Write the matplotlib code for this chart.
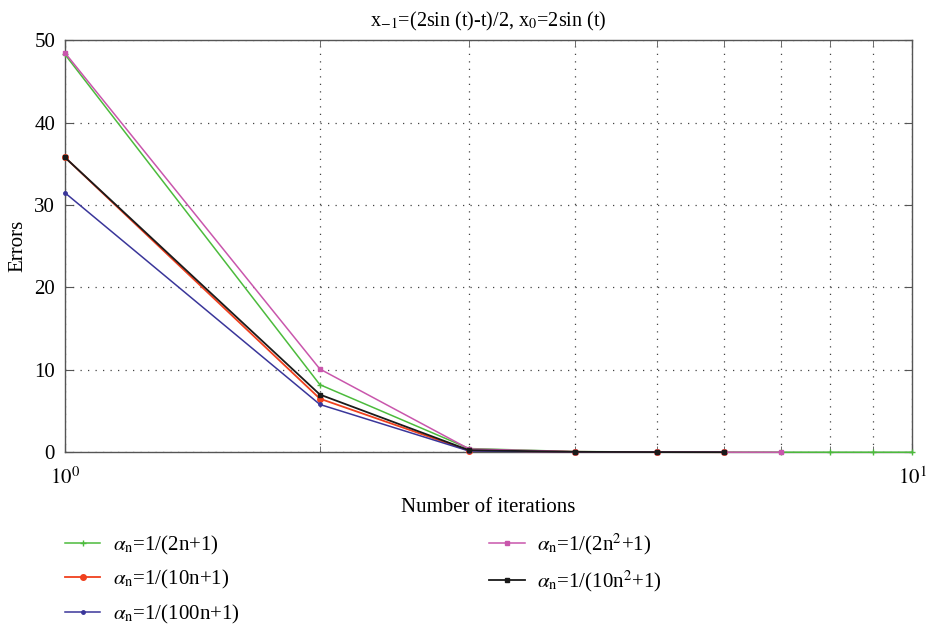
import matplotlib
matplotlib.use('Agg')
import matplotlib.pyplot as plt
from matplotlib.ticker import LogLocator, NullFormatter, FixedLocator
import numpy as np

plt.rcParams['font.family'] = ['Liberation Serif', 'DejaVu Serif']
plt.rcParams['mathtext.fontset'] = 'stix'

# errors per iteration
n_green = [1, 2, 3, 4, 5, 6, 7, 8, 9, 10]
err_green = [48.3, 8.2, 0.45, 0.08, 0.03, 0.01, 0.005, 0.002, 0.001, 0.0005]
n_pink = [1, 2, 3, 4, 5, 6, 7]
err_pink = [48.5, 10.1, 0.4, 0.07, 0.02, 0.01, 0.005]
n_short = [1, 2, 3, 4, 5, 6]
err_red = [35.8, 6.5, 0.2, 0.05, 0.02, 0.01]
err_black = [35.8, 7.0, 0.25, 0.05, 0.02, 0.01]
err_blue = [31.5, 5.8, 0.15, 0.04, 0.02, 0.01]

labels = [r'$\alpha_{\mathrm{n}}$=1/(2n+1)',
          r'$\alpha_{\mathrm{n}}$=1/(10n+1)',
          r'$\alpha_{\mathrm{n}}$=1/(100n+1)',
          r'$\alpha_{\mathrm{n}}$=1/(2n$^{2}$+1)',
          r'$\alpha_{\mathrm{n}}$=1/(10n$^{2}$+1)']

fig = plt.figure(figsize=(9.26, 6.29), dpi=100)
ax = fig.add_axes([0.070, 0.281, 0.915, 0.655])

kw = dict(zorder=3, clip_on=False)
ax.plot(n_green, err_green, color='#4cbb3c', lw=1.1, marker='+', ms=5, mew=1, label=labels[0], **kw)
ax.plot(n_short, err_red, color='#f0401e', lw=1.3, marker='o', ms=4, label=labels[1], **kw)
ax.plot(n_short, err_blue, color='#3a369a', lw=1.1, marker='.', ms=5, label=labels[2], **kw)
ax.plot(n_pink, err_pink, color='#c956ac', lw=1.1, marker='s', ms=2.5, label=labels[3], **kw)
ax.plot(n_short, err_black, color='#1a1a1a', lw=1.3, marker='s', ms=3.5, label=labels[4], **kw)

ax.set_xscale('log')
ax.set_xlim(1, 10)
ax.set_ylim(0, 50)
ax.set_yticks([0, 10, 20, 30, 40, 50])
ax.xaxis.set_major_locator(FixedLocator([1, 10]))
ax.xaxis.set_minor_locator(LogLocator(base=10, subs=np.arange(2, 10)))
ax.xaxis.set_minor_formatter(NullFormatter())
ax.set_xticklabels([r'$10^{0}$', r'$10^{1}$'])

ax.grid(True, which='both', axis='x', linestyle=(0, (1, 5)), color='#444444', lw=0.9)
ax.grid(True, which='major', axis='y', linestyle=(0, (1, 5)), color='#444444', lw=0.9)

ax.tick_params(which='both', direction='in', top=True, right=True, labelsize=15, color='#555555')
ax.tick_params(which='major', length=6)
ax.tick_params(which='minor', length=4)
ax.tick_params(axis='x', which='major', pad=11)
ax.tick_params(axis='y', which='major', pad=7)
for s in ax.spines.values():
    s.set_color('#555555')
    s.set_linewidth(1.0)

ax.set_xlabel('Number of iterations', fontsize=15, labelpad=6)
ax.set_ylabel('Errors', fontsize=15, labelpad=5)
ax.set_title(r'x$_{\mathrm{-1}}$=(2sin (t)-t)/2, x$_{0}$=2sin (t)', fontsize=14.5, pad=10)

fig.legend(loc='upper left', bbox_to_anchor=(0.070, 0.155), ncol=2, frameon=False,
           fontsize=15, borderpad=0, handlelength=1.7, handletextpad=0.6,
           columnspacing=12.0, labelspacing=0.55, borderaxespad=0)

fig.savefig('out.png', dpi=100)
